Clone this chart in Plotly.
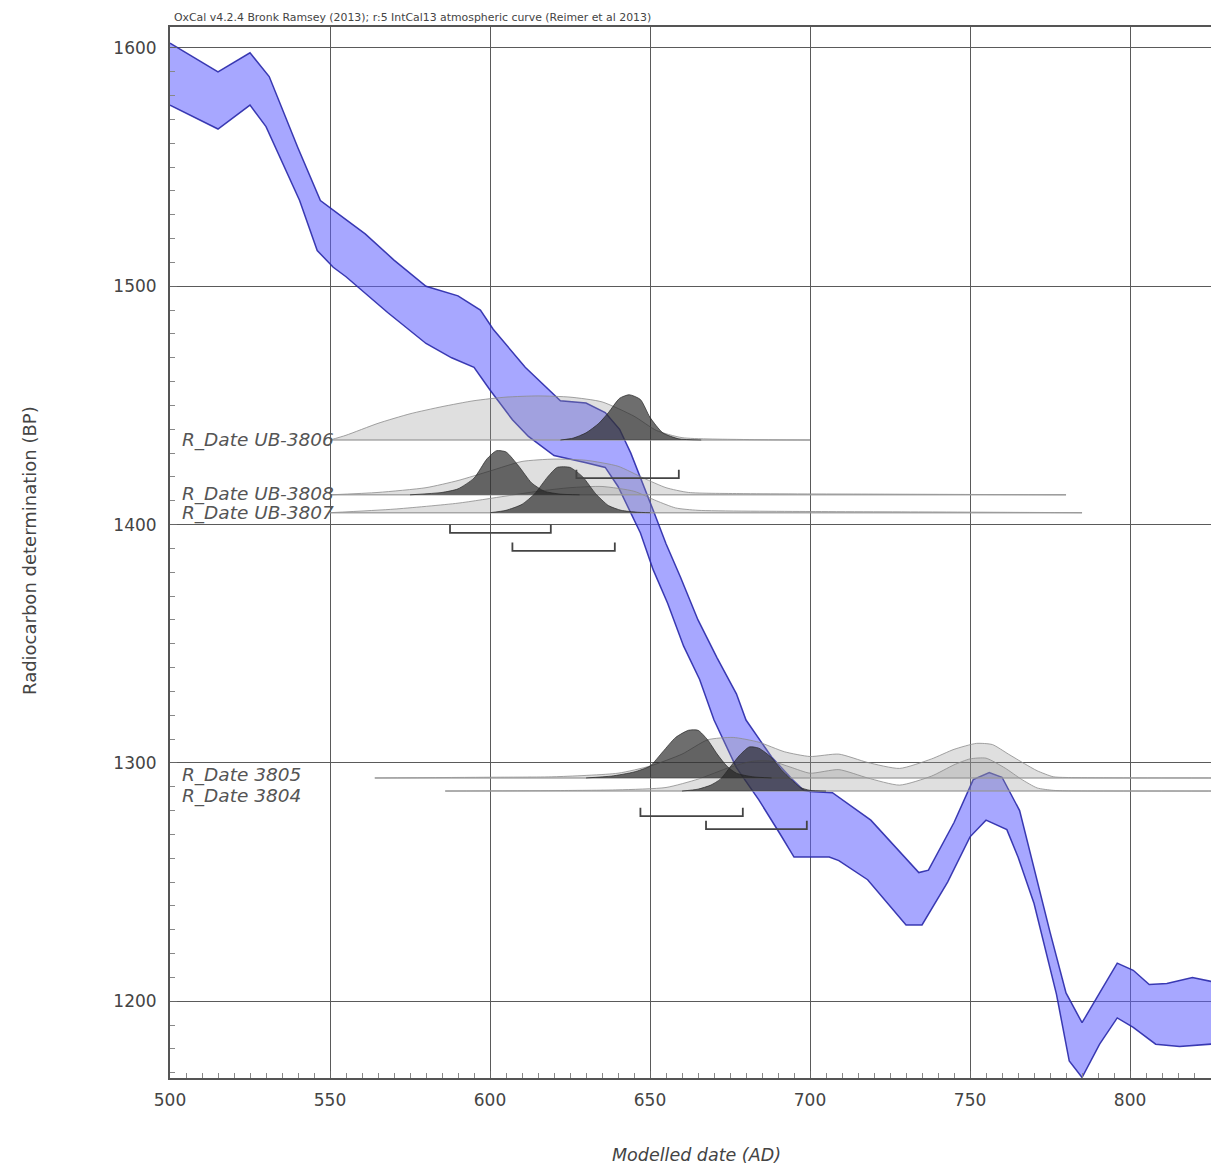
import plotly.graph_objects as go

# ---------------- data ----------------
# calibration curve (IntCal13) band edges: year AD, BP
curve_upper_year = [500, 515, 525, 531, 540, 547, 555, 561, 570, 580, 590, 597, 601, 611, 622, 630, 636,
                    640.5, 644, 647, 651, 655, 659.5, 665, 671, 677, 680, 688, 694.5, 698, 700, 707, 719,
                    734, 737, 745, 751, 756, 760, 765.5, 775, 780, 785, 790.5, 796, 801, 806, 811.5, 819.5, 830]
curve_upper_bp = [1602, 1590, 1598, 1588, 1558, 1536, 1528, 1522, 1511, 1500, 1496, 1490, 1482, 1466, 1452, 1451, 1447,
                  1440, 1430, 1420, 1406, 1392, 1378, 1360, 1344, 1329, 1318, 1302.5, 1293, 1288.5, 1288, 1287.5, 1276,
                  1254, 1255, 1275, 1293, 1296, 1294, 1280, 1229, 1203.5, 1191, 1203.5, 1216, 1213, 1207, 1207.5, 1210, 1207]
curve_lower_year = [500, 515, 525, 530, 540.5, 546, 551, 555, 568, 580, 588, 595, 600, 607, 612, 620, 630, 636,
                    640, 644, 647, 651, 655.5, 660.5, 665.5, 670, 677, 684, 690.5, 695, 706, 709, 718, 730, 735,
                    743, 750, 755, 761.5, 765, 770, 777, 781, 785, 790.5, 796, 801, 808, 815.5, 830]
curve_lower_bp = [1576, 1566, 1576, 1567, 1536, 1515, 1508, 1504, 1489, 1476, 1470, 1466, 1456.5, 1444, 1437, 1429, 1426, 1424,
                  1416, 1405, 1396.5, 1381, 1367, 1349, 1335, 1318, 1298, 1284.5, 1270.5, 1260.5, 1260.5, 1259, 1251, 1232, 1232,
                  1250, 1269, 1276, 1272, 1260.5, 1241, 1203, 1175, 1168, 1182, 1193, 1189, 1182, 1181, 1182.5]

# dates
date_names = ["R_Date UB-3806", "R_Date UB-3808", "R_Date UB-3807", "R_Date 3805", "R_Date 3804"]
date_bp = [1435.5, 1412.5, 1405.0, 1293.7, 1288.2]
range_from = [627, 587.5, 607, 647, 667.5]
range_to = [659, 619, 639, 679, 699]

# unmodelled (light) distributions: years, relative heights (BP units)
light_years = [
    [550, 555, 565, 575, 585, 595, 605, 615, 625, 635, 645, 652, 660, 680, 700],
    [550, 565, 580, 590, 600, 610, 620, 630, 640, 648, 655, 662, 680, 720, 780],
    [550, 570, 590, 605, 615, 625, 635, 645, 652, 658, 665, 700, 740, 785],
    [564, 600, 620, 640, 650, 660, 668, 676, 684, 692, 700, 709, 718, 728, 738, 745, 752, 757, 762, 767, 771, 776, 780, 830],
    [586, 620, 640, 655, 665, 675, 682, 688, 694, 700, 709, 718, 728, 738, 745, 750, 755, 761, 766, 771, 776, 780, 830],
]
light_h = [
    [0, 2, 7, 11, 14, 16.5, 18, 18.5, 18, 16, 10, 4, 1, 0.2, 0],
    [0, 1, 3, 6, 10, 14, 15, 14.5, 12, 7, 3, 1, 0.5, 0.3, 0],
    [0, 1.5, 4, 7, 9, 10.5, 11, 9, 5, 2, 1, 0.5, 0.3, 0],
    [0, 0.3, 0.5, 2, 5, 10, 16, 17, 15, 11, 9, 10, 6.5, 4, 8, 12, 14.5, 14, 10, 6, 3, 0.5, 0.2, 0],
    [0, 0.2, 0.5, 1.5, 5, 10, 12.5, 12.5, 10, 7.5, 9, 5.5, 2.5, 6.3, 11, 13.5, 13.8, 9.6, 5, 1.3, 0.3, 0.1, 0],
]
# modelled (dark) distributions
dark_years = [
    [622, 626, 630, 634, 637, 640.5, 643.5, 647, 650, 654, 659, 666],
    [575, 585, 590, 595, 599, 602, 605, 609, 613, 617, 622, 628],
    [600, 605, 610, 614, 618, 621, 625, 629, 633, 637, 641, 646, 650],
    [630, 638, 645, 650, 654, 658, 662, 665, 668, 671, 674, 677, 682, 688],
    [660, 665, 669, 672, 675, 678, 681, 684, 688, 691, 694, 697, 700, 705],
]
dark_h = [
    [0, 0.8, 3, 7, 11.5, 17.5, 19, 17, 9.5, 3, 0.5, 0],
    [0, 1, 2.5, 7, 15, 18.5, 18, 12, 5, 1.5, 0.3, 0],
    [0, 1, 3.5, 8, 15, 19, 19, 15, 8, 3, 1, 0.2, 0],
    [0, 0.8, 2.5, 5, 11, 17, 20, 20, 16, 10, 5, 2, 0.5, 0],
    [0, 0.8, 2.5, 5, 10, 15, 18.5, 18, 14, 9, 5, 1.5, 0.3, 0],
]

x_ticks = [500, 550, 600, 650, 700, 750, 800]
y_ticks = [1200, 1300, 1400, 1500, 1600]
title_text = "OxCal v4.2.4 Bronk Ramsey (2013); r:5 IntCal13 atmospheric curve (Reimer et al 2013)"

# ---------------- style ----------------
FONT = "DejaVu Sans"
BRACKET_DROP = 16     # BP below baseline
BRACKET_TICK = 3.5    # BP tick height
X_RANGE = [500, 825.3]
Y_RANGE = [1167.8, 1608.8]
LABEL_YSHIFT = [0, 1, 0, 3, -5]   # px

fig = go.Figure()

# calibration band
fig.add_trace(go.Scatter(
    x=curve_upper_year + curve_lower_year[::-1],
    y=curve_upper_bp + curve_lower_bp[::-1],
    mode="lines", fill="toself",
    fillcolor="rgba(95,95,255,0.55)",
    line=dict(color="rgba(40,40,170,0.9)", width=1.5),
    hoverinfo="skip", showlegend=False))

# light distributions
for yrs, hs, base in zip(light_years, light_h, date_bp):
    fig.add_trace(go.Scatter(
        x=yrs, y=[base + h for h in hs], mode="lines", fill="toself",
        fillcolor="rgba(150,150,150,0.30)",
        line=dict(color="rgba(140,140,140,0.8)", width=1, shape="spline", smoothing=0.6),
        hoverinfo="skip", showlegend=False))

# baselines
for yrs, base in zip(light_years, date_bp):
    fig.add_trace(go.Scatter(
        x=[yrs[0], yrs[-1]], y=[base, base], mode="lines",
        line=dict(color="rgba(150,150,150,0.8)", width=1.5),
        hoverinfo="skip", showlegend=False))

# dark distributions
for yrs, hs, base in zip(dark_years, dark_h, date_bp):
    fig.add_trace(go.Scatter(
        x=yrs, y=[base + h for h in hs], mode="lines", fill="toself",
        fillcolor="rgba(35,35,35,0.66)",
        line=dict(color="rgba(40,40,40,0.7)", width=1, shape="spline", smoothing=0.6),
        hoverinfo="skip", showlegend=False))

# brackets (95.4% ranges)
for a, b, base in zip(range_from, range_to, date_bp):
    lvl = base - BRACKET_DROP
    fig.add_trace(go.Scatter(
        x=[a, a, b, b], y=[lvl + BRACKET_TICK, lvl, lvl, lvl + BRACKET_TICK],
        mode="lines", line=dict(color="#444", width=1.8),
        hoverinfo="skip", showlegend=False))

annotations = []
for name, base, ys in zip(date_names, date_bp, LABEL_YSHIFT):
    annotations.append(dict(
        x=0.0096, xref="paper", y=base, yref="y", text=f"<i>{name}</i>",
        showarrow=False, xanchor="left", yanchor="middle", yshift=ys,
        font=dict(family=FONT, size=18.5, color="#555")))

annotations.append(dict(
    x=0.002, xref="paper", y=1.0095, yref="paper", text=title_text,
    showarrow=False, xanchor="left", yanchor="middle",
    font=dict(family=FONT, size=10.9, color="#444")))
annotations.append(dict(
    x=0.506, xref="paper", y=-0.0733, yref="paper", text="<i>Modelled date (AD)</i>",
    showarrow=False, xanchor="center", yanchor="middle",
    font=dict(family=FONT, size=17.5, color="#444")))
annotations.append(dict(
    x=-0.1345, xref="paper", y=0.5024, yref="paper", text="Radiocarbon determination (BP)",
    showarrow=False, xanchor="center", yanchor="middle", textangle=-90,
    font=dict(family=FONT, size=18, color="#444")))

fig.update_layout(
    width=1211, height=1167,
    margin=dict(l=170, r=0, t=27, b=89),
    paper_bgcolor="white", plot_bgcolor="white",
    showlegend=False,
    annotations=annotations,
    xaxis=dict(
        range=X_RANGE, tickvals=x_ticks, ticktext=[str(v) for v in x_ticks],
        showgrid=True, gridcolor="#5a5a5a", gridwidth=1,
        showline=True, linecolor="#555", linewidth=2, mirror=True,
        ticks="inside", ticklen=7, tickcolor="#666",
        minor=dict(dtick=5, ticks="inside", ticklen=5, tickcolor="#888", showgrid=False),
        tickfont=dict(family=FONT, size=17, color="#444"),
        ticklabelstandoff=6, zeroline=False),
    yaxis=dict(
        range=Y_RANGE, tickvals=y_ticks, ticktext=[str(v) for v in y_ticks],
        showgrid=True, gridcolor="#5a5a5a", gridwidth=1,
        showline=True, linecolor="#555", linewidth=2,
        ticks="inside", ticklen=7, tickcolor="#666",
        minor=dict(dtick=10, ticks="inside", ticklen=5, tickcolor="#888", showgrid=False),
        tickfont=dict(family=FONT, size=17, color="#444"),
        ticklabelstandoff=8, zeroline=False),
)

fig.write_html(
    "out.html",
    config={"displayModeBar": False},
    post_script="document.body.style.margin='0';document.body.style.overflow='hidden';"
                "document.documentElement.style.overflow='hidden';")
